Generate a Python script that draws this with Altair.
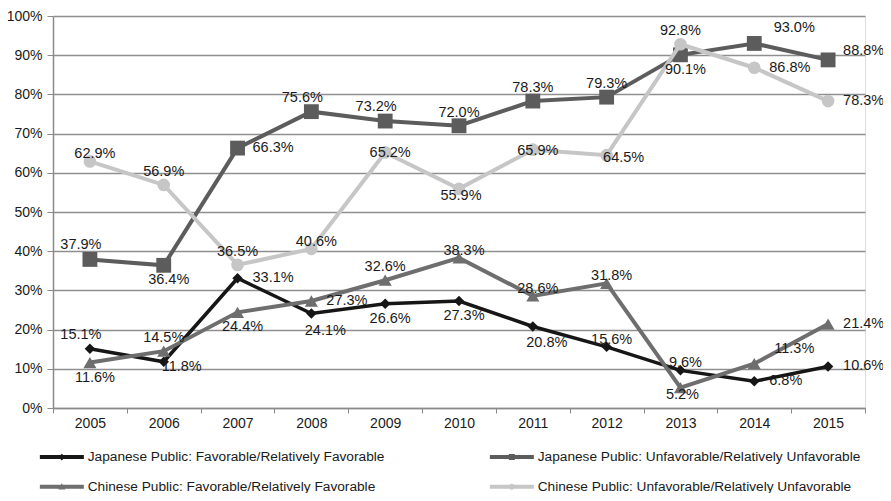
import altair as alt
import pandas as pd

years = [2005, 2006, 2007, 2008, 2009, 2010, 2011, 2012, 2013, 2014, 2015]
series_names = [
    "Japanese Public: Favorable/Relatively Favorable",
    "Japanese Public: Unfavorable/Relatively Unfavorable",
    "Chinese Public: Favorable/Relatively Favorable",
    "Chinese Public: Unfavorable/Relatively Unfavorable",
]
jp_fav = [15.1, 11.8, 33.1, 24.1, 26.6, 27.3, 20.8, 15.6, 9.6, 6.8, 10.6]
jp_unfav = [37.9, 36.4, 66.3, 75.6, 73.2, 72.0, 78.3, 79.3, 90.1, 93.0, 88.8]
cn_fav = [11.6, 14.5, 24.4, 27.3, 32.6, 38.3, 28.6, 31.8, 5.2, 11.3, 21.4]
cn_unfav = [62.9, 56.9, 36.5, 40.6, 65.2, 55.9, 65.9, 64.5, 92.8, 86.8, 78.3]
y_ticks = [0, 10, 20, 30, 40, 50, 60, 70, 80, 90, 100]

# label placement codes (style only)
jp_fav_pos = ["tl", "rb", "r", "br", "b", "b", "br", "ts", "ts", "r", "r"]
jp_unfav_pos = ["tl", "b", "r", "tl", "tl", "t", "t", "t", "b", "tr", "rt"]
cn_fav_pos = ["b", "t", "b", "r", "t", "ts", "ts", "ts", "bs", "tr", "r"]
cn_unfav_pos = ["ts", "t", "t", "ts", "c", "bs", "c", "cr", "t", "r", "r"]

offsets = {
    "t": (0, -13, "center"),
    "tl": (-9, -14, "center"),
    "tr": (40, -15, "center"),
    "ts": (5, -7, "center"),
    "b": (5, 15, "center"),
    "br": (14, 17, "center"),
    "bs": (2, 7, "center"),
    "r": (15, 0, "left"),
    "rt": (15, -9, "left"),
    "rb": (18, 5, "center"),
    "c": (5, 1, "center"),
    "cr": (17, 3, "center"),
}

colors = ["#161616", "#5c5c5c", "#6e6e6e", "#c6c6c6"]
shapes = ["diamond", "square", "triangle-up", "circle"]
sizes = [110, 220, 170, 160]
stroke_widths = [3.5, 4, 4, 4]

line_seg = "M-3.667,-0.33L3.667,-0.33L3.667,0.33L-3.667,0.33Z"
legend_paths = [
    line_seg + "M0,-0.55L0.55,0L0,0.55L-0.55,0Z",
    line_seg + "M-0.5,-0.5L0.5,-0.5L0.5,0.5L-0.5,0.5Z",
    line_seg + "M0,-0.6L0.6,0.45L-0.6,0.45Z",
    line_seg + "M0.5,0A0.5,0.5 0 1,1 -0.5,0A0.5,0.5 0 1,1 0.5,0Z",
]
# legend fills columns first: order so rows read JF | JU, CF | CU
legend_order = [0, 2, 1, 3]

all_vals = [jp_fav, jp_unfav, cn_fav, cn_unfav]
all_pos = [jp_fav_pos, jp_unfav_pos, cn_fav_pos, cn_unfav_pos]

rows = []
for s, vals, poss in zip(series_names, all_vals, all_pos):
    for yr, v, p in zip(years, vals, poss):
        rows.append({"year": str(yr), "series": s, "value": v,
                     "label": f"{v:.1f}%", "pos": p})
df = pd.DataFrame(rows)

FONT = "Liberation Sans"

x_enc = alt.X(
    "year:O",
    scale=alt.Scale(type="band", paddingInner=0, paddingOuter=0),
    bandPosition=0.5,
    axis=alt.Axis(
        title=None, labelAngle=0, tickBand="extent", domainColor="#8a8a8a",
        tickColor="#8a8a8a", tickSize=5, labelPadding=3, labelFontSize=14,
        labelFont=FONT, labelColor="#1a1a1a", grid=False, domainWidth=1.5,
    ),
)
y_enc = alt.Y(
    "value:Q",
    scale=alt.Scale(domain=[0, 100], nice=False),
    axis=alt.Axis(
        title=None, values=y_ticks, labelExpr="datum.value + '%'",
        grid=True, gridColor="#8f8f8f", gridWidth=1.3, domainColor="#8a8a8a",
        domainWidth=1.5, tickColor="#8a8a8a", tickSize=6, labelPadding=5,
        labelFontSize=14, labelFont=FONT, labelColor="#1a1a1a",
    ),
)

base = alt.Chart(df)
layers = []
for i, s in enumerate(series_names):
    sub = base.transform_filter(alt.datum.series == s)
    layers.append(
        sub.mark_line(color=colors[i], strokeWidth=stroke_widths[i]).encode(x=x_enc, y=y_enc)
    )
    layers.append(
        sub.mark_point(filled=True, opacity=1, color=colors[i], shape=shapes[i],
                       size=sizes[i]).encode(x=x_enc, y=y_enc)
    )

for code, (dx, dy, al) in offsets.items():
    layers.append(
        base.transform_filter(alt.datum.pos == code).mark_text(
            dx=dx, dy=dy, align=al, baseline="middle", fontSize=14.5, font=FONT,
            color="#1a1a1a",
        ).encode(x=x_enc, y=y_enc, text="label:N")
    )

leg_domain = [series_names[k] for k in legend_order]
leg_colors = [colors[k] for k in legend_order]
leg_paths = [legend_paths[k] for k in legend_order]

legend_df = pd.DataFrame({"series": series_names})
legend_layer = alt.Chart(legend_df).transform_filter("false").mark_point(
    filled=True, opacity=1
).encode(
    color=alt.Color(
        "series:N",
        scale=alt.Scale(domain=leg_domain, range=leg_colors),
        legend=alt.Legend(
            title=None, orient="none", legendX=2, legendY=434, columns=2,
            columnPadding=104, rowPadding=15, labelFontSize=13.7, labelFont=FONT,
            labelColor="#1a1a1a", labelLimit=500, symbolSize=144,
            symbolOpacity=1, symbolStrokeWidth=0, labelOffset=19, padding=0,
        ),
    ),
    shape=alt.Shape(
        "series:N",
        scale=alt.Scale(domain=leg_domain, range=leg_paths),
    ),
)
layers.append(legend_layer)

chart = alt.layer(*layers).properties(
    width=812, height=392,
    autosize=alt.AutoSizeParams(type="none"),
    padding={"left": 45, "top": 8, "right": 18, "bottom": 85},
).configure_view(stroke=None).configure(background="white")

chart.save("out.html", embed_options={"renderer": "svg", "actions": False})
